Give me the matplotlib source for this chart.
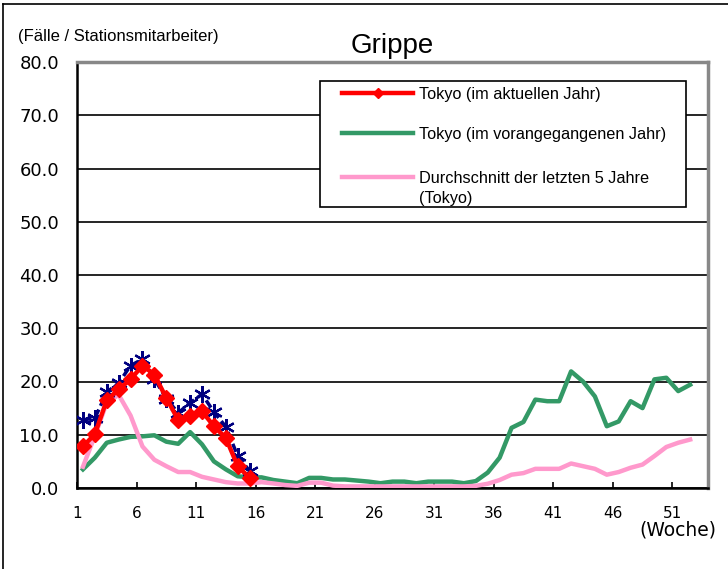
import numpy as np
import matplotlib.pyplot as plt
from matplotlib.lines import Line2D
from matplotlib.patches import Rectangle

# ---- data (cases per sentinel site, by week) ----
weeks = np.arange(1, 53)

# current year (Tokyo), weeks 1-15
tokyo_now = [7.8, 10.1, 16.5, 18.5, 20.4, 23.0, 21.3, 16.9, 12.8, 13.5, 14.4,
             11.6, 9.4, 4.1, 1.9]
# navy series with star markers (no legend entry in the original)
navy_now = [12.8, 13.1, 18.0, 19.7, 23.0, 24.2, 20.5, 16.8, 14.1, 16.0, 17.6,
            14.3, 11.5, 6.0, 3.2]
# previous year (Tokyo)
tokyo_prev = [3.5, 5.7, 8.5, 9.1, 9.6, 9.7, 9.9, 8.7, 8.3, 10.5, 8.2, 5.0,
              3.5, 2.2, 2.0, 2.0, 1.5, 1.2, 0.9, 1.9, 1.9, 1.6, 1.6, 1.4,
              1.2, 0.9, 1.2, 1.2, 0.9, 1.2, 1.2, 1.2, 0.9, 1.3, 2.9, 5.7,
              11.3, 12.4, 16.6, 16.3, 16.3, 21.9, 20.0, 17.2, 11.6, 12.5,
              16.3, 15.0, 20.4, 20.7, 18.2, 19.4]
# 5-year average (Tokyo)
avg5 = [4.0, 9.8, 16.0, 17.5, 13.6, 7.8, 5.3, 4.1, 3.0, 3.0, 2.1, 1.6,
        1.1, 0.85, 0.85, 1.1, 0.85, 0.55, 0.4, 1.0, 1.0, 0.45, 0.3, 0.3,
        0.3, 0.3, 0.3, 0.3, 0.3, 0.3, 0.3, 0.3, 0.3, 0.4, 0.8, 1.5,
        2.5, 2.8, 3.6, 3.6, 3.6, 4.6, 4.1, 3.6, 2.5, 3.0, 3.8, 4.4,
        6.0, 7.7, 8.5, 9.1]

week_labels = ["1", "6", "11", "16", "21", "26", "31", "36", "41", "46", "51"]
y_ticks = [0, 10, 20, 30, 40, 50, 60, 70, 80]

legend_labels = ["Tokyo (im aktuellen Jahr)",
                 "Tokyo (im vorangegangenen Jahr)",
                 "Durchschnitt der letzten 5 Jahre\n(Tokyo)"]

RED, GREEN, PINK, NAVY = "#ff0000", "#339966", "#ff99cc", "#000080"

W, H = 728, 569
AX_L, AX_R, AX_T, AX_B = 77, 708, 62, 488
fig = plt.figure(figsize=(W / 100, H / 100), dpi=100)
ax = fig.add_axes([AX_L / W, (H - AX_B) / H, (AX_R - AX_L) / W,
                   (AX_B - AX_T) / H])


def px(x, y):
    # pixel position in the picture -> axes fraction
    return (x - AX_L) / (AX_R - AX_L), (AX_B - y) / (AX_B - AX_T)


ax.plot(weeks, tokyo_prev, color=GREEN, lw=3.2, zorder=3)
ax.plot(weeks, avg5, color=PINK, lw=3.2, zorder=3.5)
ax.plot(weeks[:len(navy_now)], navy_now, color=NAVY, lw=2.5,
        ls=(0, (2.5, 1.2)), marker=(6, 2, 0), ms=12, mew=1.6, zorder=4)
ax.plot(weeks[:len(tokyo_now)], tokyo_now, color=RED, lw=3.2,
        marker="D", ms=8.5, zorder=5)

ax.set_xlim(0.5, 53.5)
ax.set_ylim(0, 80)
ax.set_xticks(np.arange(0.5, 51, 5))
ax.set_xticklabels(week_labels, family="DejaVu Sans", fontsize=11)
ax.set_yticks(y_ticks)
ax.set_yticklabels([f"{v:.1f}" for v in y_ticks], family="DejaVu Sans",
                   fontsize=13)
ax.tick_params(axis="x", direction="in", length=4, width=1.2, pad=13)
ax.tick_params(axis="y", length=0, pad=13)
ax.grid(axis="y", color="black", lw=1.2, zorder=1)
ax.set_axisbelow(True)

for s in ["left", "bottom"]:
    ax.spines[s].set_color("black")
    ax.spines[s].set_linewidth(1.8)
for s in ["top", "right"]:
    ax.spines[s].set_color("#888888")
    ax.spines[s].set_linewidth(2.5)

# legend box, drawn by hand to follow the original's spacing
x0, y0 = px(320, 207)
x1, y1 = px(686, 81)
ax.add_patch(Rectangle((x0, y0), x1 - x0, y1 - y0, transform=ax.transAxes,
                       facecolor="white", edgecolor="black", lw=1.2,
                       zorder=6))
rows = [(93, RED, "D"), (133, GREEN, None), (177, PINK, None)]
for (ry, c, m), lab in zip(rows, legend_labels):
    ha, ya = px(342, ry)
    hb, _ = px(413, ry)
    ax.add_line(Line2D([ha, hb], [ya, ya], color=c, lw=3.2,
                       transform=ax.transAxes, zorder=7))
    if m:
        ax.add_line(Line2D([(ha + hb) / 2], [ya], color=c, marker=m, ms=5,
                           transform=ax.transAxes, zorder=7))
    tx, _ = px(419, ry)
    ty = px(0, ry - 6)[1]
    ax.text(tx, ty, lab, transform=ax.transAxes, ha="left", va="top",
            family="Liberation Sans", fontsize=11.7, linespacing=1.4,
            zorder=8)

fig.text(392.5 / W, 1 - 46 / H, "Grippe", ha="center", va="center",
         family="Liberation Sans", fontsize=20)
fig.text(18 / W, 1 - 37 / H, "(Fälle / Stationsmitarbeiter)", ha="left",
         va="center", family="Liberation Sans", fontsize=12)
fig.text(716 / W, 1 - 530 / H, "(Woche)", ha="right", va="center",
         family="DejaVu Sans", fontsize=13.5)

# outer chart frame (only left and top edges are visible)
fig.add_artist(Line2D([3 / W, 3 / W], [0, 1 - 4 / H], color="black", lw=1.2))
fig.add_artist(Line2D([3 / W, 1], [1 - 4 / H, 1 - 4 / H], color="black",
                      lw=1.2))

fig.savefig("out.png", dpi=100)
